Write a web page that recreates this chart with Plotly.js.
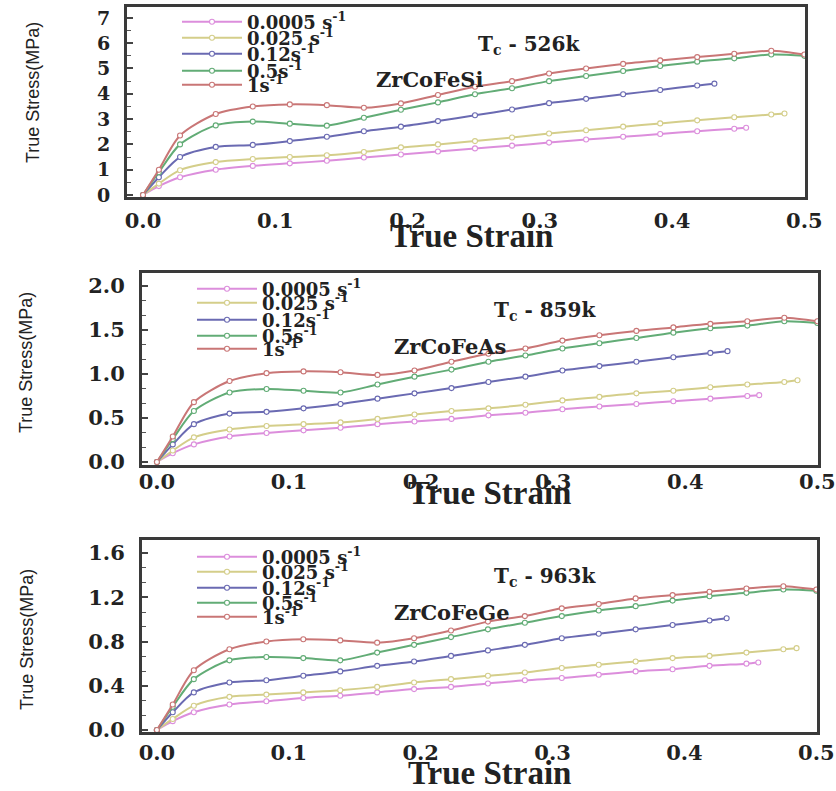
<!DOCTYPE html>
<html>
<head>
<meta charset="utf-8">
<script src="https://cdn.plot.ly/plotly-3.0.1.min.js"></script>
<style>html,body{margin:0;padding:0;background:#fff;}#chart{width:836px;height:791px;}</style>
</head>
<body>
<div id="chart"></div>
<script>
// ---------- data ----------
const rateLabels = ["0.0005 s<sup>-1</sup>", "0.025 s<sup>-1</sup>", "0.12s<sup>-1</sup>", "0.5s<sup>-1</sup>", "1s<sup>-1</sup>"];
const panelMaterials = ["ZrCoFeSi", "ZrCoFeAs", "ZrCoFeGe"];
const panelTc = ["T<sub>c</sub> - 526k", "T<sub>c</sub> - 859k", "T<sub>c</sub> - 963k"];

const strainPink   = [0, 0.012, 0.028, 0.055, 0.083, 0.111, 0.139, 0.167, 0.195, 0.223, 0.251, 0.279, 0.307, 0.335, 0.363, 0.391, 0.419, 0.447, 0.456];
const strainYellow = [0, 0.012, 0.028, 0.055, 0.083, 0.111, 0.139, 0.167, 0.195, 0.223, 0.251, 0.279, 0.307, 0.335, 0.363, 0.391, 0.419, 0.447, 0.475, 0.485];
const strainBlue   = [0, 0.012, 0.028, 0.055, 0.083, 0.111, 0.139, 0.167, 0.195, 0.223, 0.251, 0.279, 0.307, 0.335, 0.363, 0.391, 0.419, 0.432];
const strainGreen  = [0, 0.012, 0.028, 0.055, 0.083, 0.111, 0.139, 0.167, 0.195, 0.223, 0.251, 0.279, 0.307, 0.335, 0.363, 0.391, 0.419, 0.447, 0.475, 0.5];
const strainRed    = [0, 0.012, 0.028, 0.055, 0.083, 0.111, 0.139, 0.167, 0.195, 0.223, 0.251, 0.279, 0.307, 0.335, 0.363, 0.391, 0.419, 0.447, 0.475, 0.5];

// ZrCoFeSi
const siPink   = [0, 0.35, 0.7, 1.0, 1.15, 1.25, 1.35, 1.48, 1.6, 1.72, 1.84, 1.95, 2.07, 2.19, 2.3, 2.41, 2.52, 2.62, 2.66];
const siYellow = [0, 0.45, 0.98, 1.3, 1.42, 1.5, 1.57, 1.7, 1.88, 2.0, 2.13, 2.27, 2.43, 2.56, 2.7, 2.83, 2.95, 3.07, 3.18, 3.22];
const siBlue   = [0, 0.7, 1.5, 1.9, 1.98, 2.13, 2.3, 2.52, 2.7, 2.92, 3.15, 3.38, 3.63, 3.8, 3.98, 4.15, 4.33, 4.4];
const siGreen  = [0, 0.9, 2.0, 2.75, 2.9, 2.82, 2.74, 3.05, 3.37, 3.66, 3.98, 4.22, 4.5, 4.7, 4.9, 5.1, 5.27, 5.4, 5.55, 5.5];
const siRed    = [0, 1.0, 2.35, 3.2, 3.5, 3.58, 3.55, 3.45, 3.62, 3.95, 4.28, 4.5, 4.8, 5.0, 5.18, 5.32, 5.45, 5.58, 5.7, 5.55];

// ZrCoFeAs
const asPink   = [0, 0.10, 0.20, 0.29, 0.33, 0.36, 0.39, 0.43, 0.46, 0.49, 0.53, 0.56, 0.60, 0.63, 0.66, 0.69, 0.72, 0.75, 0.76];
const asYellow = [0, 0.13, 0.28, 0.37, 0.41, 0.43, 0.45, 0.49, 0.54, 0.58, 0.61, 0.65, 0.70, 0.74, 0.78, 0.81, 0.85, 0.88, 0.91, 0.93];
const asBlue   = [0, 0.20, 0.43, 0.55, 0.57, 0.61, 0.66, 0.72, 0.78, 0.84, 0.91, 0.97, 1.04, 1.09, 1.14, 1.19, 1.24, 1.26];
const asGreen  = [0, 0.26, 0.58, 0.79, 0.83, 0.81, 0.79, 0.88, 0.97, 1.05, 1.14, 1.21, 1.29, 1.35, 1.41, 1.47, 1.52, 1.55, 1.60, 1.58];
const asRed    = [0, 0.29, 0.68, 0.92, 1.01, 1.03, 1.02, 0.99, 1.04, 1.14, 1.23, 1.29, 1.38, 1.44, 1.49, 1.53, 1.57, 1.60, 1.64, 1.60];

// ZrCoFeGe
const gePink   = [0, 0.08, 0.16, 0.23, 0.26, 0.29, 0.31, 0.34, 0.37, 0.39, 0.42, 0.45, 0.47, 0.50, 0.53, 0.55, 0.58, 0.60, 0.61];
const geYellow = [0, 0.10, 0.22, 0.30, 0.32, 0.34, 0.36, 0.39, 0.43, 0.46, 0.49, 0.52, 0.56, 0.59, 0.62, 0.65, 0.67, 0.70, 0.73, 0.74];
const geBlue   = [0, 0.16, 0.34, 0.43, 0.45, 0.49, 0.53, 0.58, 0.62, 0.67, 0.72, 0.77, 0.83, 0.87, 0.91, 0.95, 0.99, 1.01];
const geGreen  = [0, 0.21, 0.46, 0.63, 0.66, 0.65, 0.63, 0.70, 0.77, 0.84, 0.91, 0.97, 1.03, 1.08, 1.12, 1.17, 1.21, 1.24, 1.27, 1.26];
const geRed    = [0, 0.23, 0.54, 0.73, 0.80, 0.82, 0.81, 0.79, 0.83, 0.90, 0.98, 1.03, 1.10, 1.14, 1.19, 1.22, 1.25, 1.28, 1.30, 1.27];

// ---------- styling / layout ----------
const W = 836, H = 791;
const px = v => v / W, py = v => 1 - v / H;
const colors = ["#dc8edc", "#d4ce8a", "#6a6ab2", "#62ac76", "#c97676"];
const strains = [strainPink, strainYellow, strainBlue, strainGreen, strainRed];
const panelStress = [
  [siPink, siYellow, siBlue, siGreen, siRed],
  [asPink, asYellow, asBlue, asGreen, asRed],
  [gePink, geYellow, geBlue, geGreen, geRed]
];

const panels = [
  {frame: [127, 805, 7, 197], xr: [-0.0121, 0.5005], yr: [-0.08, 7.43], dtick: 1, minor: 0.5, fmt: "d", yfont: 19,
   legX: 182, legRows: [22, 38, 54, 71, 85], tc: [529, 45], mat: [430, 80], xt: [472, 236], yt: [33, 93], xstand: 3},
  {frame: [142, 818, 273, 465], xr: [-0.0113, 0.5005], yr: [-0.034, 2.148], dtick: 0.5, minor: 0.5/3, fmt: ".1f", yfont: 21,
   legX: 197, legRows: [289, 303, 320, 336, 349], tc: [545, 311], mat: [450, 346], xt: [489, 493], yt: [26, 363], xstand: -4},
  {frame: [142, 817, 540, 732], xr: [-0.0113, 0.5005], yr: [-0.018, 1.718], dtick: 0.4, minor: 0.4/3, fmt: ".1f", yfont: 21,
   legX: 197, legRows: [557, 572, 588, 603, 617], tc: [545, 577], mat: [452, 612], xt: [489, 773], yt: [27, 640], xstand: 0}
];

const serifBold = {family: "DejaVu Serif", size: 20, color: "#222", weight: "bold"};
const traces = [];
const layout = {
  width: W, height: H,
  margin: {l: 0, r: 0, t: 0, b: 0},
  paper_bgcolor: "#fff", plot_bgcolor: "#fff",
  showlegend: true,
  annotations: []
};

panels.forEach((p, i) => {
  const sfx = i === 0 ? "" : String(i + 1);
  const xa = "xaxis" + sfx, ya = "yaxis" + sfx;
  layout[xa] = {
    domain: [px(p.frame[0]), px(p.frame[1])], range: p.xr, anchor: "y" + sfx,
    showline: true, mirror: true, linewidth: 3, linecolor: "#3a3a3a",
    showgrid: false, zeroline: false, ticks: "", dtick: 0.1, tick0: 0, tickformat: ".1f",
    tickfont: {family: "DejaVu Serif", size: 21, color: "#222", weight: "bold"},
    ticklabelstandoff: p.xstand, fixedrange: true
  };
  layout[ya] = {
    domain: [py(p.frame[3]), py(p.frame[2])], range: p.yr, anchor: "x" + sfx,
    showline: true, mirror: true, linewidth: 3, linecolor: "#3a3a3a",
    showgrid: false, zeroline: false, ticks: "inside", ticklen: 6, tickwidth: 1.5, tickcolor: "#444",
    dtick: p.dtick, tick0: 0, tickformat: p.fmt,
    minor: {dtick: p.minor, tick0: 0, ticks: "inside", ticklen: 4, tickwidth: 1.2, tickcolor: "#555"},
    tickfont: {family: "DejaVu Serif", size: p.yfont, color: "#222", weight: "bold"},
    ticklabelstandoff: 10, fixedrange: true
  };

  for (let k = 0; k < 5; k++) {
    const idx = i * 5 + k;
    const legName = idx === 0 ? "legend" : "legend" + (idx + 1);
    traces.push({
      type: "scatter", mode: "lines+markers",
      x: strains[k], y: panelStress[i][k],
      xaxis: "x" + sfx, yaxis: "y" + sfx,
      name: rateLabels[k], legend: legName,
      line: {color: colors[k], width: 2, shape: "spline", smoothing: 0.8},
      marker: {symbol: "circle", size: 5, color: "#fff", line: {color: colors[k], width: 1.1}},
      hoverinfo: "x+y"
    });
    layout[legName] = {
      x: px(p.legX - 5), y: py(p.legRows[k]), xanchor: "left", yanchor: "middle",
      bgcolor: "rgba(0,0,0,0)", borderwidth: 0, itemwidth: 60, valign: "middle",
      font: {family: "DejaVu Serif", size: 18, color: "#222", weight: "bold"},
      itemclick: false, itemdoubleclick: false
    };
  }

  layout.annotations.push(
    {xref: "paper", yref: "paper", x: px(p.tc[0]), y: py(p.tc[1]), text: panelTc[i], showarrow: false,
     xanchor: "center", yanchor: "middle", font: serifBold},
    {xref: "paper", yref: "paper", x: px(p.mat[0]), y: py(p.mat[1]), text: panelMaterials[i], showarrow: false,
     xanchor: "center", yanchor: "middle", font: {family: "DejaVu Serif", size: 21, color: "#222", weight: "bold"}},
    {xref: "paper", yref: "paper", x: px(p.xt[0]), y: py(p.xt[1]), text: "True Strain", showarrow: false,
     xanchor: "center", yanchor: "middle", font: {family: "Liberation Serif", size: 33, color: "#222", weight: "bold"}},
    {xref: "paper", yref: "paper", x: px(p.yt[0]), y: py(p.yt[1]), text: "True Stress(MPa)", showarrow: false,
     textangle: -90, xanchor: "center", yanchor: "middle",
     font: {family: "Liberation Sans", size: 18, color: "#222"}}
  );
});

Plotly.newPlot("chart", traces, layout, {displayModeBar: false});
</script>
</body>
</html>
